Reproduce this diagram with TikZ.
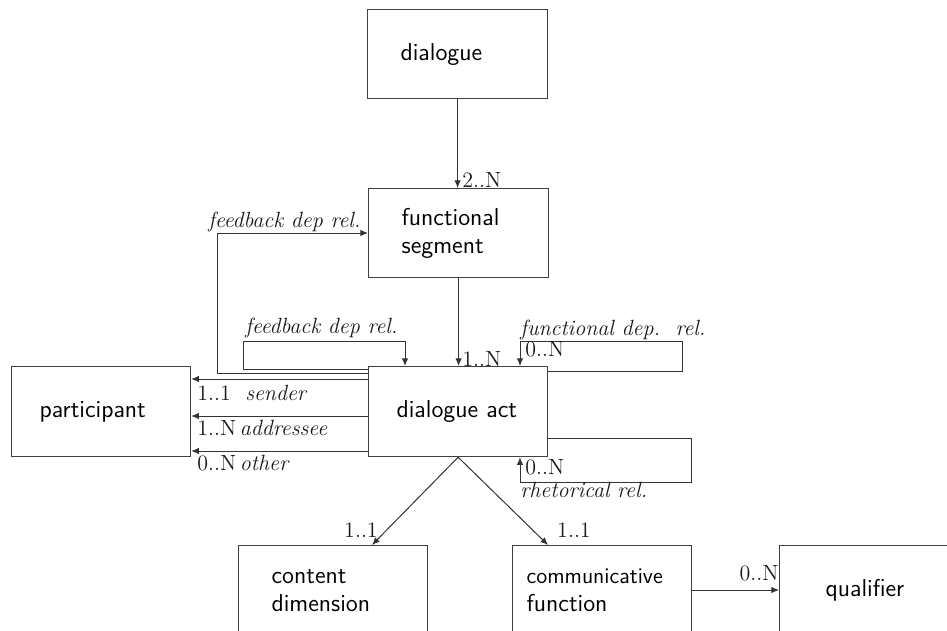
\documentclass[tikz,border=0pt]{standalone}
\usetikzlibrary{arrows.meta}
\begin{document}
\begin{tikzpicture}[x=0.5pt,y=-0.5pt,
  box/.style={draw=black!75, line width=0.6pt, rectangle, anchor=north west,
    font=\sffamily\fontsize{12.2}{14}\selectfont, align=left, inner ysep=0pt},
  conn/.style={draw=black!80, line width=0.5pt, -{Latex[length=3.8pt,width=3.2pt]}},
  lbl/.style={font=\fontsize{11}{13}\selectfont, inner sep=0pt, text=black!90}]
\clip (0,0) rectangle (947,631);
\fill[white] (0,0) rectangle (947,631);
% boxes
\node[box, inner xsep=16.5pt, text width=57pt, minimum height=44.5pt] (dlg) at (367,9) {dialogue};
\node[box, inner xsep=16.5pt, text width=57pt, minimum height=44.5pt] (fs) at (368,188) {functional\\segment};
\node[box, inner xsep=14pt, text width=61.5pt, minimum height=45pt] (da) at (368,366) {dialogue act};
\node[box, inner xsep=14pt, text width=61.5pt, minimum height=45pt] (part) at (11,366) {participant};
\node[box, inner xsep=16.5pt, text width=61.5pt, minimum height=45pt] (cd) at (238,545) {content\\dimension};
\node[box, inner xsep=7pt, text width=75.5pt, minimum height=45pt] (cf) at (512,545) {{\fontsize{11.2}{14}\selectfont communicative}\\function};
\node[box, inner xsep=23pt, text width=64pt, minimum height=45pt] (qual) at (779,545) {qualifier};
% vertical chain
\draw[conn] (dlg.south) -- (dlg.south |- fs.north);
\node[lbl, anchor=west] (l2n) at (462,180) {2..N};
\draw[conn] (fs.south) -- (fs.south |- da.north);
\node[lbl, anchor=west] (l1n) at (462,359) {1..N};
% feedback dependence to functional segment
\draw[conn] (da.west |- 0,373) -| (217,233) -- (fs.west |- 0,233);
\node[lbl, anchor=base west] (lfb1) at (208,227) {\textit{feedback dep rel.}};
% feedback dependence loop on dialogue act
\draw[conn] (da.west |- 0,369) -| (243,341) -| (da.north -| 405,0);
\node[lbl, anchor=base west] (lfb2) at (245,333) {\textit{feedback dep rel.}};
% participant relations
\draw[conn] (da.west |- 0,379) -- (part.east |- 0,379);
\node[lbl, anchor=west] (lsend) at (197,393) {1..1\ \ \textit{sender}};
\draw[conn] (da.west |- 0,416) -- (part.east |- 0,416);
\node[lbl, anchor=west] (laddr) at (197,428) {1..N\,\textit{addressee}};
\draw[conn] (da.west |- 0,451) -- (part.east |- 0,451);
\node[lbl, anchor=west] (loth) at (197,463) {0..N\,\textit{other}};
% functional dependence loop
\draw[conn] (da.east |- 0,371) -| (682,341) -| (da.north -| 520,0);
\node[lbl, anchor=base west] (lfd) at (520,335) {\textit{functional dep.\ \ rel.}};
\node[lbl, anchor=west] (lfdn) at (525,349) {0..N};
% rhetorical loop
\draw[conn] (da.east |- 0,438) -| (691,482) -| (da.south -| 520,0);
\node[lbl, anchor=west] (lrhn) at (525,467) {0..N};
\node[lbl, anchor=base west] (lrh) at (520,497) {\textit{rhetorical rel.}};
% dimension and function
\draw[conn] (da.south) -- (cd.north -| 372,0);
\node[lbl] (lcd) at (361,530) {1..1};
\draw[conn] (da.south) -- (cf.north -| 548,0);
\node[lbl] (lcf) at (574,530) {1..1};
% qualifier
\draw[conn] (cf.east |- 0,590) -- (qual.west |- 0,590);
\node[lbl] (lq) at (759,573) {0..N};
\end{tikzpicture}
\end{document}
